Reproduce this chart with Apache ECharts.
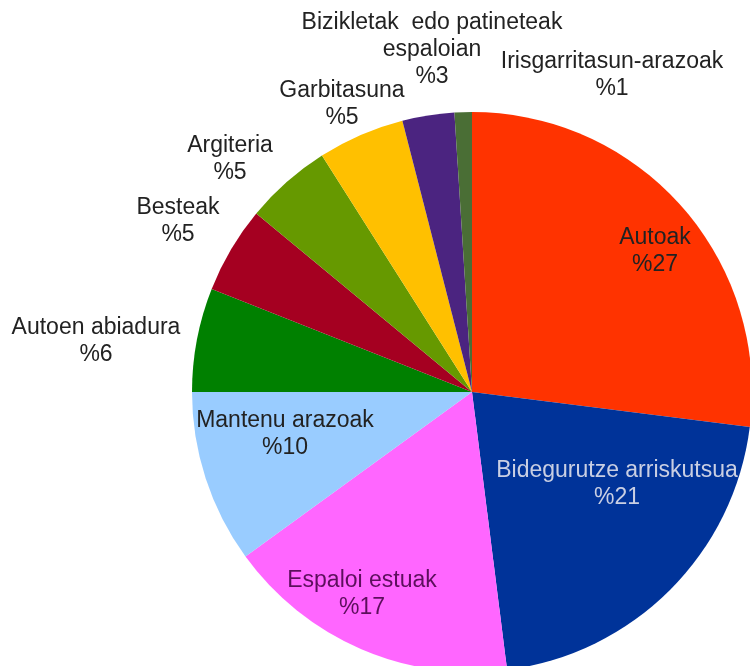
<!DOCTYPE html>
<html>
	<head>
		<meta charset="UTF-8">
		<title></title>
		<style>
			html,body{margin:0;padding:0;background:#fff;}
		</style>
	</head>
	<body>
		<div id='pie' style="width:750px;height:666px;"></div>
	</body>
	<script type="text/javascript" src="https://cdn.jsdelivr.net/npm/echarts@6/dist/echarts.min.js"></script>
	<script>
		// kategoriak eta balioak (%)
		var categories = ['Autoak','Bidegurutze arriskutsua','Espaloi estuak','Mantenu arazoak','Autoen abiadura','Besteak','Argiteria','Garbitasuna','Bizikletak  edo patineteak\nespaloian','Irisgarritasun-arazoak'];
		var values = [27, 21, 17, 10, 6, 5, 5, 5, 3, 1];

		var colors = ['#ff3300','#003399','#ff66ff','#99ccff','#008000','#a50021','#669900','#ffc000','#4b2480','#4a6e35'];
		var labelColors = ['#222','#c9cfe3','#5c0f5c','#222','#222','#222','#222','#222','#222','#222'];
		// etiketen kokapena (erdigunea)
		var labelPos = [[655,251],[617,484],[362,594],[285,434],[96,341],[178,221],[230,159],[342,104],[432,50],[612,75]];

		function pie(id){
			var chart = echarts.init(document.getElementById(id));
			var data = [];
			for (var i = 0; i < categories.length; i++) {
				data.push({
					name: categories[i],
					value: values[i],
					itemStyle: {color: colors[i]},
					label: {color: labelColors[i]}
				});
			}
			var option = {
				animation: false,
				series: [
					{
						type: 'pie',
						center: [472, 392],
						radius: 280,
						startAngle: 90,
						clockwise: true,
						avoidLabelOverlap: false,
						itemStyle: {borderWidth: 0},
						label: {
							show: true,
							position: 'inside',
							formatter: function(p){ return p.name + '\n%' + p.value; },
							fontFamily: 'Liberation Sans, Arial, sans-serif',
							fontSize: 23,
							lineHeight: 27,
							align: 'center',
							textBorderWidth: 0
						},
						labelLine: {show: false},
						labelLayout: function(params){
							var p = labelPos[params.dataIndex];
							return {x: p[0], y: p[1], align: 'center', verticalAlign: 'middle'};
						},
						data: data
					}
				]
			};
			chart.setOption(option);
		}

		pie('pie');
	</script>
</html>
